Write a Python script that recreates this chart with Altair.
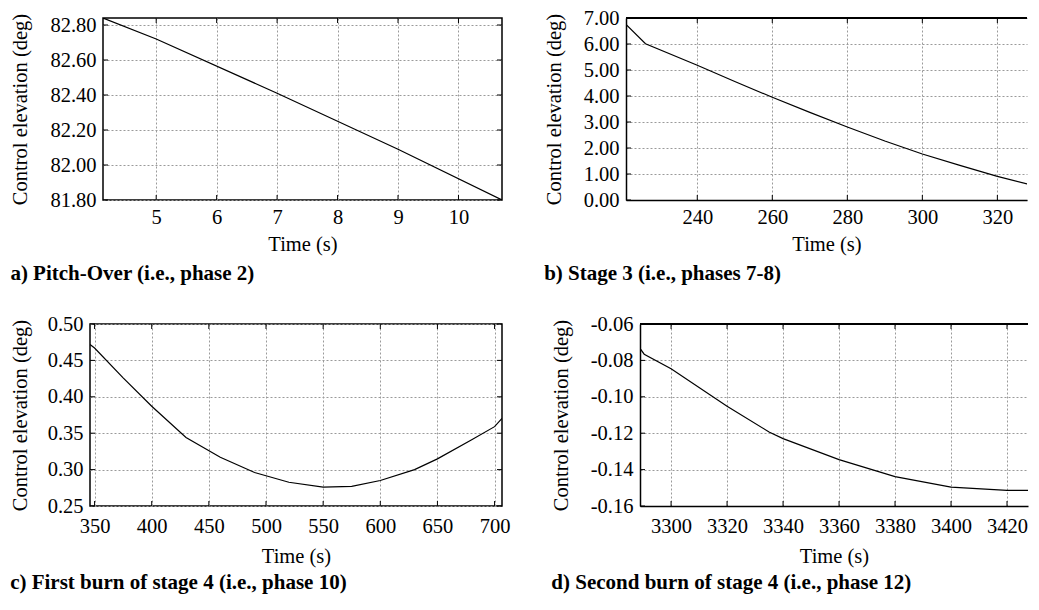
import altair as alt
import pandas as pd

FONT = "Liberation Serif"
MINUS = "\u2212"

# ---- data ----
a_time = [4.12, 5.0, 7.0, 9.0, 10.72]
a_elev = [82.84, 82.72, 82.41, 82.09, 81.80]

b_time = [221.0, 226.2, 240, 250, 260, 270, 280, 290, 300, 310, 320, 330.6]
b_elev = [6.75, 6.01, 5.18, 4.56, 3.95, 3.37, 2.81, 2.27, 1.77, 1.33, 0.91, 0.52]

c_time = [346, 350, 375, 400, 430, 460, 490, 520, 550, 575, 600, 630, 650, 680, 700, 706.5]
c_elev = [0.472, 0.467, 0.426, 0.387, 0.344, 0.317, 0.296, 0.2826, 0.276, 0.277,
          0.285, 0.300, 0.3147, 0.341, 0.359, 0.3705]

d_time = [3288.9, 3290.4, 3300, 3320, 3335, 3340, 3360, 3380, 3400, 3420, 3430, 3431]
d_elev = [-0.0734, -0.0766, -0.0846, -0.1052, -0.1193, -0.1230, -0.1345, -0.1439,
          -0.1496, -0.1514, -0.1514, -0.1523]

a_xticks = [5, 6, 7, 8, 9, 10]
a_yticks = [81.8, 82.0, 82.2, 82.4, 82.6, 82.8]
b_xticks = [240, 260, 280, 300, 320]
b_yticks = [0, 1, 2, 3, 4, 5, 6, 7]
c_xticks = [350, 400, 450, 500, 550, 600, 650, 700]
c_yticks = [0.25, 0.30, 0.35, 0.40, 0.45, 0.50]
d_xticks = [3300, 3320, 3340, 3360, 3380, 3400, 3420]
d_yticks = [-0.16, -0.14, -0.12, -0.10, -0.08, -0.06]

captions = [
    "a) Pitch-Over (i.e., phase 2)",
    "b) Stage 3 (i.e., phases 7-8)",
    "c) First burn of stage 4 (i.e., phase 10)",
    "d) Second burn of stage 4 (i.e., phase 12)",
]

FS = 20.5
TICK = 5


def panel(t, v, xdom, ydom, xticks, yticks, w, h, caption,
          ytp, ylp, xlp, xtp, capoff, cut):
    df = pd.DataFrame({"t": t, "v": v})
    xs = alt.Scale(domain=xdom, nice=False, zero=False)
    ys = alt.Scale(domain=ydom, nice=False, zero=False)
    common = dict(
        labelFont=FONT, labelFontSize=FS, labelColor="black",
        titleFont=FONT, titleFontSize=FS, titleFontWeight="normal", titleColor="black",
        labelFlush=False, labelOverlap=False, ticks=False, tickSize=0,
        domain=cut, domainColor="black", domainWidth=1.5,
        grid=True, gridColor="#9a9a9a", gridDash=[2, 2], gridWidth=1,
    )
    x_axis = alt.Axis(values=xticks, title="Time (s)", format="d",
                      labelPadding=xlp, titlePadding=xtp, **common)
    y_axis = alt.Axis(values=yticks, title="Control elevation (deg)", format=".2f",
                      labelExpr="replace(datum.label, '" + MINUS + "', '-')",
                      labelPadding=ylp, titlePadding=ytp, **common)
    X = lambda: alt.X("t:Q", scale=xs, axis=x_axis, title="Time (s)")
    Y = lambda: alt.Y("v:Q", scale=ys, axis=y_axis, title="Control elevation (deg)")

    line = (
        alt.Chart(df)
        .mark_line(color="black", strokeWidth=1.2, clip=True)
        .encode(x=X(), y=Y())
    )
    # short inward tick marks on the frame, at the tick values
    xt = pd.DataFrame({"t": xticks})
    yt = pd.DataFrame({"v": yticks})
    tick_style = dict(color="black", strokeWidth=1)
    xbot = alt.Chart(xt).mark_rule(**tick_style).encode(
        x=X(), y=alt.value(h), y2=alt.value(h - TICK))
    xtop = alt.Chart(xt).mark_rule(**tick_style).encode(
        x=X(), y=alt.value(0), y2=alt.value(TICK))
    yleft = alt.Chart(yt).mark_rule(**tick_style).encode(
        y=Y(), x=alt.value(0), x2=alt.value(TICK))
    layers = [line, xbot, xtop, yleft]
    if cut:
        top = alt.Chart(xt).mark_rule(color="black", strokeWidth=1.5).encode(
            x=alt.value(0), x2=alt.value(w), y=alt.value(0)
        )
        layers.append(top)
        view = alt.ViewBackground(stroke="transparent", strokeWidth=0)
    else:
        yright = alt.Chart(yt).mark_rule(**tick_style).encode(
            y=Y(), x=alt.value(w - TICK), x2=alt.value(w))
        layers.append(yright)
        view = alt.ViewBackground(stroke="black", strokeWidth=1.5)
    title = alt.TitleParams(
        caption, orient="bottom", anchor="start", offset=capoff,
        font=FONT, fontSize=21, fontWeight="bold", color="black",
    )
    return alt.layer(*layers).properties(width=w, height=h, title=title, view=view)


def spacer():
    # an empty 1x1 cell: makes each row's left edge start at the page margin
    return (
        alt.Chart(pd.DataFrame({"k": [0]}))
        .mark_rule(opacity=0)
        .encode(x=alt.value(0), x2=alt.value(1), y=alt.value(0))
        .properties(width=1, height=1,
                    view=alt.ViewBackground(stroke="transparent", strokeWidth=0))
    )


pa = panel(a_time, a_elev, [4.12, 10.72], [81.8, 82.84], a_xticks, a_yticks,
           399, 182, captions[0], 19.5, 7, 7, 7, 8, False)
pb = panel(b_time, b_elev, [221.0, 327.9], [0, 7], b_xticks, b_yticks,
           401, 182, captions[1], 19, 7, 7, 7, 8, True)
pc = panel(c_time, c_elev, [346, 706.5], [0.25, 0.50], c_xticks, c_yticks,
           412, 182, captions[2], 17, 7, 10, 10, 5, False)
pd_ = panel(d_time, d_elev, [3288.9, 3427.5], [-0.16, -0.06], d_xticks, d_yticks,
            388, 182, captions[3], 19, 7, 10, 10, 5, True)

row1 = alt.hconcat(spacer(), alt.hconcat(pa, pb, spacing=40), spacing=0)
row2 = alt.hconcat(spacer(), alt.hconcat(pc, pd_, spacing=40), spacing=0)

chart = alt.vconcat(row1, row2, spacing=28).properties(padding=0)

chart.save("out.html", embed_options={"renderer": "svg", "actions": False})
